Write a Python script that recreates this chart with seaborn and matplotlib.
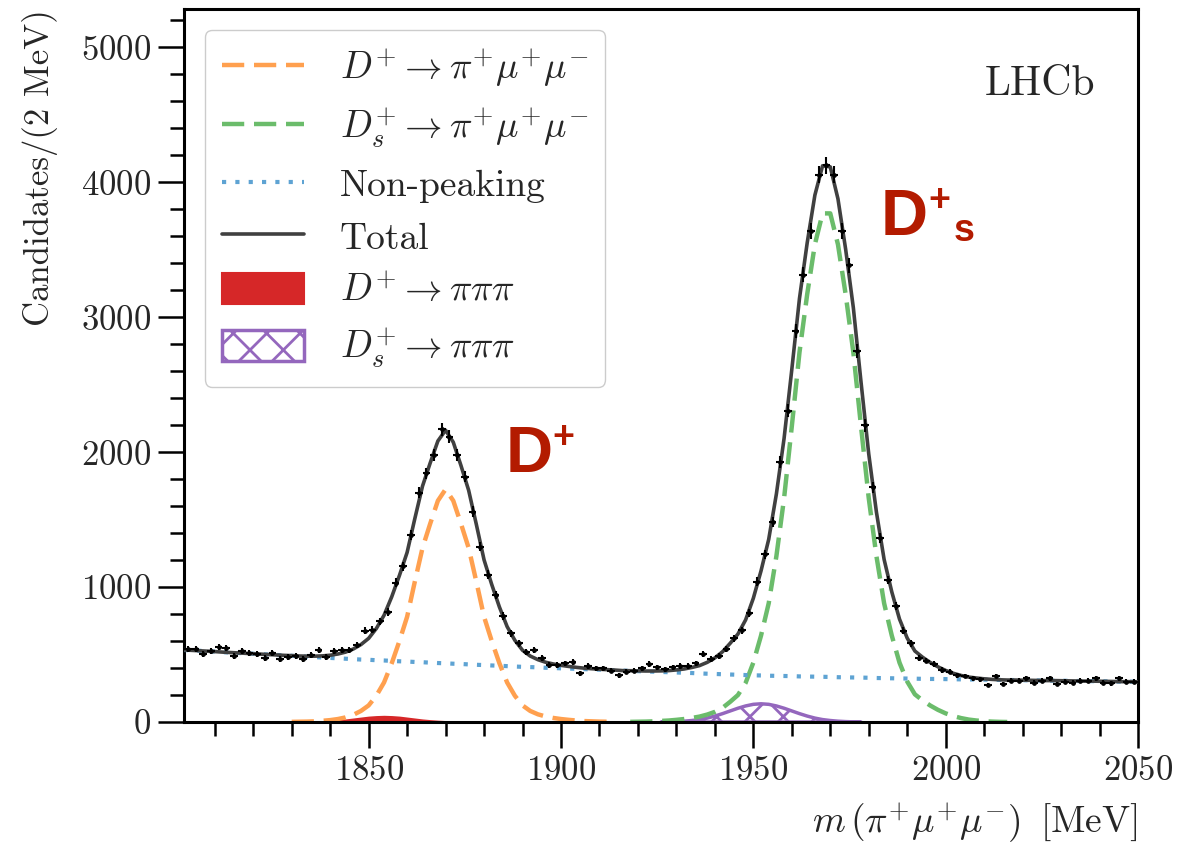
import numpy as np
import pandas as pd
import matplotlib
matplotlib.use("Agg")
import matplotlib.pyplot as plt
import seaborn as sns
from matplotlib.ticker import MultipleLocator

# ---------------------------------------------------------------------------
# Data: m(pi+ mu+ mu-) histogram, 2 MeV bins from 1802 to 2050 MeV
# ---------------------------------------------------------------------------
bin_lo = 1802
bin_width = 2
counts = [
    539, 539, 502, 529, 554, 546, 492, 529, 509, 504,
    472, 514, 467, 484, 492, 467, 497, 534, 480, 529,
    534, 534, 571, 675, 685, 746, 818, 1033, 1153, 1386,
    1700, 1843, 1979, 2170, 2115, 1979, 1819, 1559, 1300, 1090,
    941, 787, 657, 583, 521, 534, 472, 423, 423, 435,
    447, 361, 415, 398, 398, 380, 348, 373, 380, 398,
    430, 405, 391, 405, 415, 415, 435, 504, 465, 489,
    539, 620, 680, 808, 1040, 1242, 1484, 1929, 2306, 2899,
    3317, 3640, 4058, 4125, 4058, 3640, 3384, 2751, 2198, 1740,
    1362, 1053, 860, 676, 583, 472, 455, 430, 385, 373,
    348, 341, 324, 316, 274, 341, 282, 306, 306, 324,
    291, 306, 324, 282, 299, 291, 306, 306, 324, 291,
    287, 324, 299, 299,
]

# Fit components, evaluated every 2 MeV; each list starts at its *_start mass
grid_lo, grid_hi = 1802, 2050
nonpeaking = [
    534, 531, 528, 525, 522, 518, 515, 512, 509, 506,
    503, 500, 497, 494, 491, 487, 484, 481, 478, 475,
    472, 469, 466, 463, 461, 458, 456, 453, 450, 448,
    445, 443, 440, 437, 435, 432, 430, 427, 424, 422,
    419, 417, 414, 411, 409, 407, 405, 402, 400, 398,
    396, 394, 392, 390, 388, 386, 384, 381, 379, 377,
    375, 373, 371, 369, 367, 365, 363, 360, 358, 356,
    354, 352, 350, 348, 346, 345, 343, 342, 341, 340,
    338, 337, 336, 335, 334, 332, 331, 330, 329, 328,
    326, 325, 324, 323, 322, 321, 320, 319, 319, 318,
    317, 316, 315, 315, 314, 313, 312, 311, 311, 310,
    309, 308, 307, 307, 306, 305, 304, 303, 303, 302,
    301, 300, 299, 299, 298,
]
dplus_start = 1830
dplus_pimumu = [
    1, 2, 3, 5, 9, 14, 22, 34, 53, 82,
    123, 195, 293, 435, 600, 780, 1040, 1290, 1470, 1640,
    1725, 1640, 1470, 1290, 1040, 780, 600, 435, 293, 195,
    123, 82, 57, 41, 30, 22, 16, 11, 7, 5,
    3, 2, 1,
]
ds_start = 1918
ds_pimumu = [
    1, 2, 3, 5, 8, 11, 16, 22, 30, 40,
    55, 75, 105, 150, 200, 290, 440, 640, 880, 1230,
    1660, 2190, 2740, 3170, 3540, 3770, 3770, 3540, 3170, 2740,
    2190, 1660, 1230, 880, 640, 440, 300, 205, 160, 122,
    90, 64, 44, 29, 18, 11, 6, 3, 1, 0,
]
dplus_3pi_start = 1830
dplus_3pi = [
    0, 0, 1, 2, 3, 6, 10, 15, 22, 29,
    36, 40, 42, 40, 36, 29, 22, 15, 10, 6,
    3, 2, 1, 0, 0,
]
ds_3pi_start = 1926
ds_3pi = [
    0, 1, 3, 6, 11, 18, 29, 44, 62, 82,
    102, 119, 131, 135, 131, 119, 102, 82, 62, 44,
    29, 18, 11, 6, 3, 1, 0,
]

labels = {
    "dplus": r"$D^{+} \to \pi^{+}\mu^{+}\mu^{-}$",
    "ds": r"$D_{s}^{+} \to \pi^{+}\mu^{+}\mu^{-}$",
    "bkg": "Non-peaking",
    "total": "Total",
    "dplus3pi": r"$D^{+}{\to}\pi\pi\pi$",
    "ds3pi": r"$D_{s}^{+}{\to}\pi\pi\pi$",
}

# ---------------------------------------------------------------------------
def component(start, values):
    return pd.Series(values, index=start + 2 * np.arange(len(values)), dtype=float)

grid = np.arange(grid_lo, grid_hi + 1, 2)
bkg = component(grid_lo, nonpeaking)
c_dplus = component(dplus_start, dplus_pimumu)
c_ds = component(ds_start, ds_pimumu)
c_dplus3 = component(dplus_3pi_start, dplus_3pi)
c_ds3 = component(ds_3pi_start, ds_3pi)
total = sum(s.reindex(grid, fill_value=0.0) for s in (bkg, c_dplus, c_ds, c_dplus3, c_ds3))

hist = pd.DataFrame({
    "mass": bin_lo + bin_width / 2 + bin_width * np.arange(len(counts)),
    "n": np.array(counts, dtype=float),
})

# ---------------------------------------------------------------------------
sns.set_style("ticks")
plt.rcParams.update({
    "font.family": "cmr10",
    "mathtext.fontset": "cm",
    "axes.formatter.use_mathtext": True,
    "axes.unicode_minus": False,
    "hatch.linewidth": 2.0,
    "hatch.color": "#9467bd",
})

C_ORANGE = "#ffa04f"
C_GREEN = "#6bbc6b"
C_BLUE = "#5ea3d3"
C_TOTAL = "#404040"
C_RED = "#d62728"
C_PURPLE = "#9467bd"
C_NOTE = "#b31b00"

fig = plt.figure(figsize=(11.81, 8.48), dpi=100)
ax = fig.add_axes([184 / 1181, 1 - 722 / 848, (1138 - 184) / 1181, (722 - 9) / 848])

# misidentified D -> pi pi pi contributions
ax.fill_between(c_dplus3.index, 0, c_dplus3.values, color=C_RED, lw=1.5,
                label=labels["dplus3pi"], zorder=1)
ax.fill_between(c_ds3.index, 0, c_ds3.values, facecolor="none", edgecolor=C_PURPLE,
                hatch="x", lw=2.5, label=labels["ds3pi"], zorder=1)

# signal and background shapes
sns.lineplot(x=c_dplus.index, y=c_dplus.values, ax=ax, color=C_ORANGE, lw=3.2,
             linestyle=(0, (5, 2.2)), label=labels["dplus"], zorder=2)
sns.lineplot(x=c_ds.index, y=c_ds.values, ax=ax, color=C_GREEN, lw=3.2,
             linestyle=(0, (5, 2.2)), label=labels["ds"], zorder=2)
sns.lineplot(x=bkg.index, y=bkg.values, ax=ax, color=C_BLUE, lw=3.0,
             linestyle=(0, (1, 2.2)), label=labels["bkg"], zorder=3)
sns.lineplot(x=total.index, y=total.values, ax=ax, color=C_TOTAL, lw=2.6,
             label=labels["total"], zorder=4)

# data points with Poisson uncertainties
ax.errorbar(hist["mass"], hist["n"], yerr=np.sqrt(hist["n"]), xerr=bin_width / 2,
            fmt="o", ms=2.4, color="black", ecolor="black", elinewidth=1.5,
            capsize=0, zorder=5)

ax.set_xlim(1802, 2050)
ax.set_ylim(0, 5285)
ax.set_xticks([1850, 1900, 1950, 2000, 2050])
ax.set_yticks([0, 1000, 2000, 3000, 4000, 5000])
ax.xaxis.set_minor_locator(MultipleLocator(10))
ax.yaxis.set_minor_locator(MultipleLocator(200))
ax.tick_params(which="both", direction="out", top=False, right=False,
               labelsize=25, width=1.8, color="black")
ax.tick_params(which="major", length=19, pad=5)
ax.tick_params(which="minor", length=10)
for sp in ax.spines.values():
    sp.set_linewidth(2.2)
    sp.set_color("black")
    sp.set_visible(True)

ax.set_xlabel(r"$m\,(\pi^{+}\mu^{+}\mu^{-})\;\;[\mathrm{MeV}]$", fontsize=27,
              loc="right", labelpad=10)
ax.set_ylabel("Candidates/(2 MeV)", fontsize=25, loc="top", labelpad=16)

ax.text(0.955, 0.88, "LHCb", transform=ax.transAxes, ha="right", va="baseline",
        fontsize=30)

# peak annotations
note_kw = dict(color=C_NOTE, fontfamily="Liberation Sans", fontweight="bold",
               textcoords="offset points", ha="left", va="baseline",
               annotation_clip=False)
ax.annotate("D", xy=(1885.6, 1853), xytext=(0, 0), fontsize=47, **note_kw)
ax.annotate("+", xy=(1885.6, 1853), xytext=(34, 17), fontsize=27, **note_kw)
ax.annotate("D", xy=(1983.2, 3610), xytext=(0, 0), fontsize=47, **note_kw)
ax.annotate("+", xy=(1983.2, 3610), xytext=(34, 17), fontsize=27, **note_kw)
ax.annotate("s", xy=(1983.2, 3610), xytext=(52, -4), fontsize=27, **note_kw)

handles, labs = ax.get_legend_handles_labels()
lookup = dict(zip(labs, handles))
order = ["dplus", "ds", "bkg", "total", "dplus3pi", "ds3pi"]
ax.legend([lookup[labels[k]] for k in order], [labels[k] for k in order],
          loc="upper left", fontsize=27, handlelength=2.2, handleheight=0.9,
          handletextpad=0.95, labelspacing=0.46, borderpad=0.45,
          borderaxespad=0.55, frameon=True, fancybox=True, edgecolor="0.8",
          framealpha=1.0)

fig.savefig("out.png", dpi=100)
